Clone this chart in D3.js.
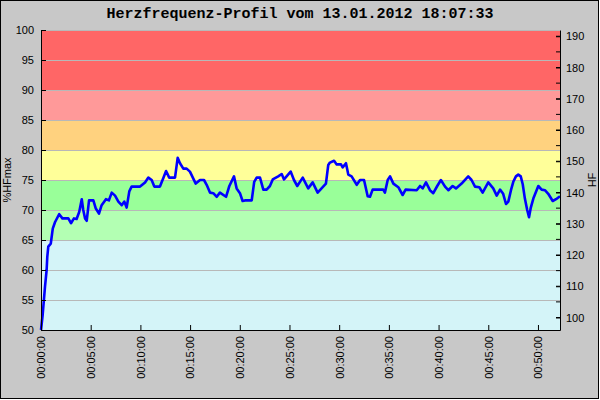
<!DOCTYPE html>
<html>
<head>
<meta charset="utf-8">
<script src="https://cdn.jsdelivr.net/npm/d3@7"></script>
<style>
  body { margin: 0; background: #fff; }
  text { font-family: "Liberation Sans", Arial, sans-serif; font-size: 11px; fill: #000; }
</style>
</head>
<body>
<script>
// ---- data: seconds since start, %HFmax
var secs = [0, 10, 24, 34, 38, 44, 59, 71, 85, 110, 129, 165, 181, 199, 215, 231, 246, 255, 266, 276,
  290, 316, 330, 350, 366, 392, 410, 427, 447, 467, 487, 503, 517, 533, 547, 598, 628, 648, 668, 684,
  718, 738, 755, 774, 809, 825, 839, 859, 879, 899, 934, 960, 984, 1000, 1020, 1040, 1061, 1080, 1117, 1137,
  1165, 1181, 1201, 1217, 1231, 1272, 1287, 1302, 1322, 1342, 1362, 1382, 1399, 1432, 1453, 1467, 1507, 1527, 1547, 1580,
  1613, 1640, 1670, 1720, 1734, 1744, 1769, 1785, 1811, 1821, 1841, 1855, 1875, 1906, 1926, 1950, 1972, 1986, 2002, 2066,
  2076, 2093, 2107, 2127, 2157, 2183, 2201, 2268, 2288, 2304, 2324, 2348, 2368, 2392, 2414, 2439, 2459, 2485, 2505, 2539,
  2579, 2599, 2620, 2646, 2666, 2700, 2730, 2751, 2771, 2790, 2807, 2821, 2837, 2851, 2867, 2881, 2896, 2908, 2921, 2935,
  2946, 2956, 2972, 3002, 3022, 3042, 3062, 3089, 3109, 3133];
var pct = [50, 52.5, 57.2, 60, 62.2, 63.9, 64.4, 66.9, 68, 69.3, 68.6, 68.6, 67.8, 68.6, 68.5, 69.7, 71.8, 70, 68.6, 68.2,
  71.6, 71.6, 70.3, 69.4, 70.8, 71.8, 71.6, 72.9, 72.4, 71.4, 70.8, 71.4, 70.4, 73.1, 73.9, 73.9, 74.6, 75.4, 75, 73.9,
  73.9, 75.3, 76.5, 75.4, 75.4, 78.7, 77.8, 76.9, 76.9, 76.4, 74.4, 75, 75, 74.2, 72.9, 72.8, 72.2, 72.9, 72.2, 74,
  75.6, 73.6, 72.8, 71.5, 71.6, 71.6, 74.7, 75.4, 75.4, 73.4, 73.4, 74, 75.1, 75.6, 76, 75.1, 76.4, 75, 74, 75.4,
  73.6, 74.6, 72.9, 74.4, 77.5, 77.9, 78.2, 77.6, 77.6, 77.1, 77.8, 75.9, 75.6, 74.2, 75, 75, 72.3, 72.2, 73.4, 73.4,
  72.9, 75, 75.6, 74.4, 73.8, 72.5, 73.4, 73.3, 74, 73.6, 74.6, 73.3, 72.8, 74, 75, 73.9, 73.3, 74, 73.6, 74.4,
  75.6, 75, 73.9, 73.8, 72.9, 74.6, 73.6, 72.4, 73.4, 72.7, 71, 71.4, 73.3, 74.7, 75.6, 75.9, 75.6, 74.3, 71.9, 70,
  68.8, 70.3, 71.9, 74, 73.4, 73.3, 72.7, 71.5, 71.8, 72.3];

// zones in %HFmax
var zoneLow  = [50, 65, 70, 75, 80, 85, 90];
var zoneHigh = [65, 70, 75, 80, 85, 90, 100];
var zoneColor = ["#d4f4f8", "#b3ffb3", "#99ff99", "#ffff99", "#ffd27f", "#ff9999", "#ff6666"];

var hfMax = 192;
var xTicks = [0, 300, 600, 900, 1200, 1500, 1800, 2100, 2400, 2700, 3000];
var leftTicks = [50, 55, 60, 65, 70, 75, 80, 85, 90, 95, 100];
var rightTicks = [100, 110, 120, 130, 140, 150, 160, 170, 180, 190];
var rightMinor = [100, 105, 110, 115, 120, 125, 130, 135, 140, 145, 150, 155, 160, 165, 170, 175, 180, 185, 190];

var title = "Herzfrequenz-Profil vom 13.01.2012 18:07:33";

// ---- layout
var W = 600, H = 400;
var L = 41, R = 560, T = 30, B = 330;

var svg = d3.select("body").append("svg")
  .attr("width", W).attr("height", H);

svg.append("rect")
  .attr("x", 0.5).attr("y", 0.5)
  .attr("width", W - 2).attr("height", H - 2)
  .attr("fill", "#c8c8c8").attr("stroke", "#000");

var x = d3.scaleLinear().domain([0, 3133]).range([L, R]);
var y = d3.scaleLinear().domain([50, 100]).range([B, T]);
var y2 = d3.scaleLinear().domain([hfMax * 0.5, hfMax]).range([B, T]);

// zones
svg.selectAll(".zone")
  .data(zoneLow)
  .enter().append("rect")
  .attr("class", "zone")
  .attr("x", L)
  .attr("width", R - L)
  .attr("y", function(d, i) { return y(zoneHigh[i]); })
  .attr("height", function(d, i) { return y(d) - y(zoneHigh[i]); })
  .attr("fill", function(d, i) { return zoneColor[i]; });

// grid
svg.selectAll(".grid")
  .data(leftTicks.slice(1))
  .enter().append("line")
  .attr("x1", L).attr("x2", R)
  .attr("y1", function(d) { return Math.round(y(d)) + 0.5; })
  .attr("y2", function(d) { return Math.round(y(d)) + 0.5; })
  .attr("stroke", "#b8b8b8");

// the heart rate line
var line = d3.line()
  .x(function(d, i) { return x(secs[i]); })
  .y(function(d) { return y(d); });

svg.append("path")
  .datum(pct)
  .attr("d", line)
  .attr("fill", "none")
  .attr("stroke", "#0000ff")
  .attr("stroke-width", 2.6)
  .attr("stroke-linejoin", "round");

// axes
function fmtTime(s) {
  var h = Math.floor(s / 3600), m = Math.floor(s / 60) % 60, sec = s % 60;
  return d3.format("02d")(h) + ":" + d3.format("02d")(m) + ":" + d3.format("02d")(sec);
}

var gx = svg.append("g").attr("transform", "translate(0," + B + ")")
  .call(d3.axisBottom(x).tickValues(xTicks).tickSizeInner(-5).tickSizeOuter(0).tickFormat(fmtTime));
gx.selectAll("text")
  .attr("transform", "rotate(-90)")
  .attr("text-anchor", "end")
  .attr("x", -6).attr("y", 0).attr("dy", "0.35em");

var gl = svg.append("g").attr("transform", "translate(" + L + ",0)")
  .call(d3.axisLeft(y).tickValues(leftTicks).tickSizeInner(-5).tickSizeOuter(0));
gl.selectAll("text").attr("x", -7);

var gr = svg.append("g").attr("transform", "translate(" + R + ",0)")
  .call(d3.axisRight(y2).tickValues(rightTicks).tickSizeInner(-4).tickSizeOuter(0));
gr.selectAll("text").attr("x", 6);
gr.selectAll(".minor")
  .data(rightMinor)
  .enter().append("line")
  .attr("class", "minor")
  .attr("x1", -4).attr("x2", 0)
  .attr("y1", function(d) { return y2(d); })
  .attr("y2", function(d) { return y2(d); })
  .attr("stroke", "#000");

[gx, gl, gr].forEach(function(g) {
  g.select(".domain").attr("stroke", "#000");
  g.selectAll("text").style("font-family", "'Liberation Sans', Arial, sans-serif").style("font-size", "11px");
});

// titles
svg.append("text")
  .attr("x", W / 2).attr("y", 18)
  .attr("text-anchor", "middle")
  .style("font-family", "'Liberation Mono', monospace")
  .style("font-weight", "bold")
  .style("font-size", "15px")
  .text(title);

svg.append("text")
  .attr("transform", "translate(11,180) rotate(-90)")
  .attr("text-anchor", "middle")
  .text("%HFmax");

svg.append("text")
  .attr("transform", "translate(596,180) rotate(-90)")
  .attr("text-anchor", "middle")
  .text("HF");
</script>
</body>
</html>
